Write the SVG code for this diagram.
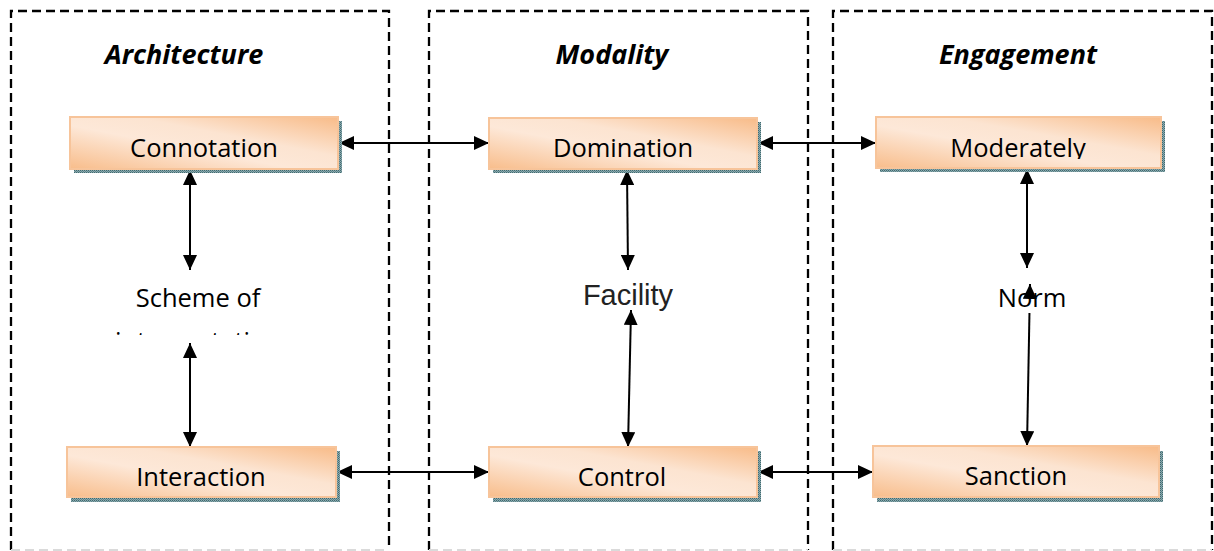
<svg xmlns="http://www.w3.org/2000/svg" width="1214" height="551" viewBox="0 0 1214 551">
  <defs>
    <linearGradient id="peach" x1="0" y1="1" x2="1" y2="0">
      <stop offset="0" stop-color="#f8bd8b"/>
      <stop offset="0.42" stop-color="#fde8d8"/>
      <stop offset="0.62" stop-color="#fce4d1"/>
      <stop offset="1" stop-color="#f8bb88"/>
    </linearGradient>
    <pattern id="grain" width="2" height="2" patternUnits="userSpaceOnUse">
      <rect width="2" height="2" fill="#8eaaae"/>
      <rect width="1" height="1" fill="#3e6a70"/>
      <rect x="1" y="1" width="1" height="1" fill="#5b8389"/>
    </pattern>
    <marker id="head" viewBox="0 0 15 14" refX="15" refY="7" markerWidth="15" markerHeight="14" markerUnits="userSpaceOnUse" orient="auto-start-reverse">
      <path d="M0,0 L15,7 L0,14 Z" fill="#000"/>
    </marker>
    <clipPath id="clipModerately"><rect x="870" y="110" width="300" height="49"/></clipPath>
    <clipPath id="clipScheme"><rect x="100" y="320" width="200" height="15"/></clipPath>
  </defs>
  <style>
    .panel { fill: none; stroke: #000; stroke-width: 2.3; stroke-dasharray: 9 5; }
    .panel-foot { fill: none; stroke: #dadada; stroke-width: 2; stroke-dasharray: 9 5; }
    .title { font-family: "Open Sans", "Liberation Sans", sans-serif; font-weight: bold; font-style: italic; font-size: 27px; fill: #000; text-anchor: middle; }
    .shadow { fill: url(#grain); }
    .box { fill: url(#peach); stroke: #f7c49a; stroke-width: 2; }
    .label { font-family: "Open Sans", "Liberation Sans", sans-serif; font-size: 25.5px; fill: #000; text-anchor: middle; }
    .plain { font-family: "Liberation Sans", Arial, sans-serif; font-size: 29px; fill: #222; text-anchor: middle; }
    .link { stroke: #000; stroke-width: 2; fill: none; marker-start: url(#head); marker-end: url(#head); }
  </style>

  <!-- dashed column frames -->
  <g id="panels">
    <path class="panel" d="M11,550 V11 H389 V550"/>
    <path class="panel" d="M429,550 V11 H808 V550"/>
    <path class="panel" d="M833,550 V11 H1212 V550"/>
    <path class="panel-foot" d="M11,550 H389 M429,550 H808 M833,550 H1212"/>
  </g>

  <!-- column headings -->
  <g id="titles">
    <text class="title" x="184" y="64">Architecture</text>
    <text class="title" x="612" y="64">Modality</text>
    <text class="title" x="1018" y="64">Engagement</text>
  </g>

  <!-- connectors -->
  <g id="connectors">
    <line class="link" x1="339" y1="143" x2="489" y2="143"/>
    <line class="link" x1="758" y1="143" x2="876" y2="143"/>
    <line class="link" x1="337" y1="472" x2="489" y2="472"/>
    <line class="link" x1="758" y1="472" x2="873" y2="472"/>
    <line class="link" x1="190" y1="170" x2="190" y2="270"/>
    <line class="link" x1="190" y1="343" x2="190" y2="447"/>
    <line class="link" x1="627" y1="170" x2="628" y2="270"/>
    <line class="link" x1="631" y1="310" x2="628" y2="447"/>
    <line class="link" x1="1027" y1="169" x2="1027" y2="268"/>
    <line class="link" x1="1030" y1="284" x2="1027" y2="446"/>
  </g>

  <g id="connotation">
    <rect class="shadow" x="74" y="121" width="268" height="52"/>
    <rect class="box" x="70" y="117" width="268" height="52"/>
    <text class="label" x="204" y="157">Connotation</text>
  </g>
  <g id="domination">
    <rect class="shadow" x="493" y="122" width="268" height="51"/>
    <rect class="box" x="489" y="118" width="268" height="51"/>
    <text class="label" x="623" y="157">Domination</text>
  </g>
  <g id="moderately">
    <rect class="shadow" x="880" y="121" width="285" height="51"/>
    <rect class="box" x="876" y="117" width="285" height="51"/>
    <text class="label" x="1018" y="157" clip-path="url(#clipModerately)">Moderately</text>
  </g>

  <g id="scheme">
    <text class="label" x="198" y="307">Scheme of</text>
    <text class="label" x="198" y="350" clip-path="url(#clipScheme)">interpretation</text>
  </g>
  <g id="facility">
    <text class="plain" x="628" y="305">Facility</text>
  </g>
  <g id="norm">
    <rect x="992" y="299" width="80" height="14" fill="#fff"/>
    <text class="label" x="1032" y="307">Norm</text>
  </g>

  <g id="interaction">
    <rect class="shadow" x="71" y="451" width="269" height="51"/>
    <rect class="box" x="67" y="447" width="269" height="50"/>
    <text class="label" x="201" y="486">Interaction</text>
  </g>
  <g id="control">
    <rect class="shadow" x="493" y="451" width="268" height="51"/>
    <rect class="box" x="489" y="447" width="268" height="50"/>
    <text class="label" x="622" y="486">Control</text>
  </g>
  <g id="sanction">
    <rect class="shadow" x="877" y="451" width="286" height="51"/>
    <rect class="box" x="873" y="446" width="286" height="51"/>
    <text class="label" x="1016" y="485">Sanction</text>
  </g>
</svg>
